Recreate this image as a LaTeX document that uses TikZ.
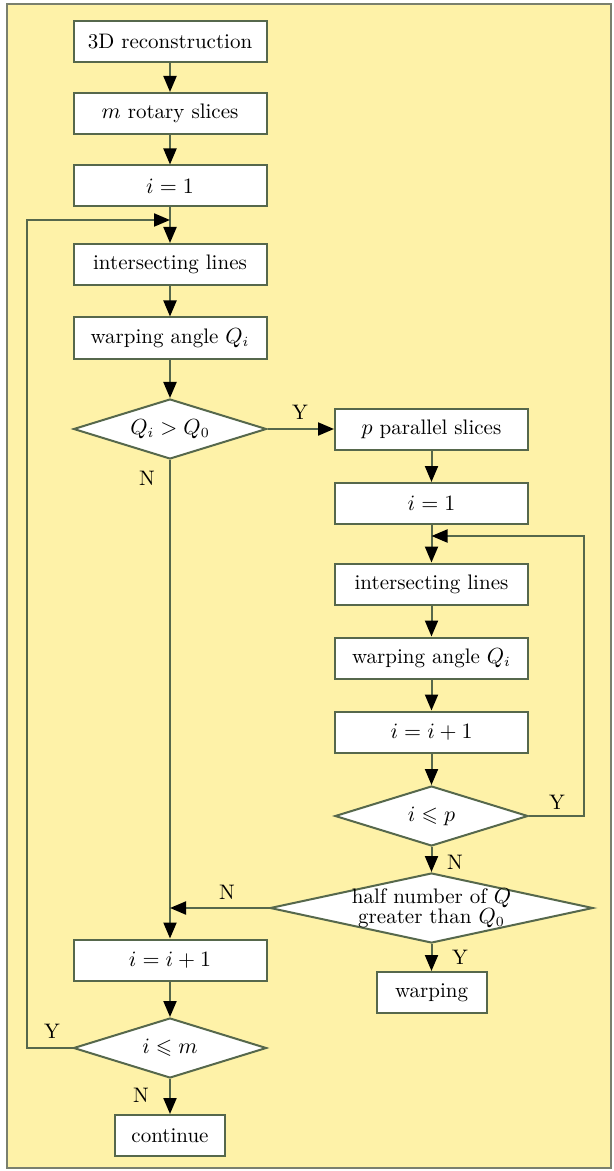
\documentclass[tikz,border=0pt]{standalone}
\usepackage{amssymb}
\usetikzlibrary{arrows.meta,shapes.geometric}
\definecolor{bgyellow}{HTML}{FEF2A8}
\definecolor{framegray}{HTML}{7A806E}
\definecolor{linegreen}{HTML}{56684C}
\begin{document}
\begin{tikzpicture}[x=0.5pt,y=-0.5pt,
  every node/.style={font=\fontsize{10.5}{12.5}\selectfont},
  stepbox/.style={draw=linegreen, line width=1pt, fill=white,
    minimum width=96.5pt, minimum height=20.5pt, inner sep=0pt},
  smallbox/.style={stepbox, minimum width=55pt},
  test/.style={draw=linegreen, line width=1pt, fill=white, shape=diamond,
    aspect=3, inner sep=0pt, minimum width=96.5pt, minimum height=30pt},
  flow/.style={draw=linegreen, line width=1pt,
    -{Triangle[length=8pt,width=6.5pt,color=black]}},
  tag/.style={inner sep=0pt}
]
% page and frame
\path[fill=white] (0,0) rectangle (614,1171);
\draw[framegray, line width=1pt, fill=bgyellow] (7,4) rectangle (611,1168);

% main loop over rotary slices
\node[stepbox] (b1) at (170,41.5) {3D reconstruction};
\node[stepbox] (b2) at (170,113.5) {$m$ rotary slices};
\node[stepbox] (b3) at (170,186) {$i = 1$};
\node[stepbox] (b4) at (170,264.5) {intersecting lines};
\node[stepbox] (b5) at (170,338) {warping angle $Q_i$};
\node[test] (d1) at (170,429) {$Q_i > Q_0$};
\node[stepbox] (b6) at (170,960) {$i = i + 1$};
\node[test] (dm) at (170,1048) {$i \leqslant m$};
\node[smallbox] (cont) at (170,1135.5) {continue};

% inner loop over parallel slices
\node[stepbox] (r1) at (431.5,429) {$p$ parallel slices};
\node[stepbox] (r2) at (431.5,503.5) {$i = 1$};
\node[stepbox] (r3) at (431.5,584) {intersecting lines};
\node[stepbox] (r4) at (431.5,658) {warping angle $Q_i$};
\node[stepbox] (r5) at (431.5,732) {$i = i + 1$};
\node[test] (rd) at (431.5,816) {$i \leqslant p$};
\node[test, minimum width=161.5pt, minimum height=35pt,
  label={[align=center, inner sep=0pt, font=\fontsize{10.5}{10}\selectfont]center:half number of $Q$\\greater than $Q_0$}]
  (big) at (431.5,908) {};
\node[smallbox] (warp) at (431.5,992.5) {warping};

% junctions and corners
\coordinate (jL) at (170,220);
\coordinate (xl) at (27,220);
\coordinate (jR) at (431.5,536);
\coordinate (xr) at (584,536);
\coordinate (jN) at (170,908);

% connectors, left column
\draw[flow] (b1) -- (b2);
\draw[flow] (b2) -- (b3);
\draw[flow] (b3) -- (b4);
\draw[flow] (b4) -- (b5);
\draw[flow] (b5) -- (d1);
\draw[flow] (d1.south) -- (b6.north);
\draw[flow] (b6) -- (dm);
\draw[flow] (dm.south) -- (cont.north);
\draw[flow] (dm.west) -| (xl) -- (jL);

% connectors, right column
\draw[flow] (d1.east) -- (r1.west);
\draw[flow] (r1) -- (r2);
\draw[flow] (r2) -- (r3);
\draw[flow] (r3) -- (r4);
\draw[flow] (r4) -- (r5);
\draw[flow] (r5) -- (rd);
\draw[flow] (rd.east) -| (xr) -- (jR);
\draw[flow] (rd.south) -- (big.north);
\draw[flow] (big.west) -- (jN);
\draw[flow] (big.south) -- (warp.north);

% branch labels
\node[tag] (y1) at (300,412) {Y};
\node[tag] (n1) at (147,478) {N};
\node[tag] (y2) at (557,802) {Y};
\node[tag] (n2) at (455,862) {N};
\node[tag] (n3) at (227,892) {N};
\node[tag] (y3) at (460,957) {Y};
\node[tag] (y4) at (52,1031) {Y};
\node[tag] (n4) at (141,1095) {N};
\end{tikzpicture}
\end{document}
